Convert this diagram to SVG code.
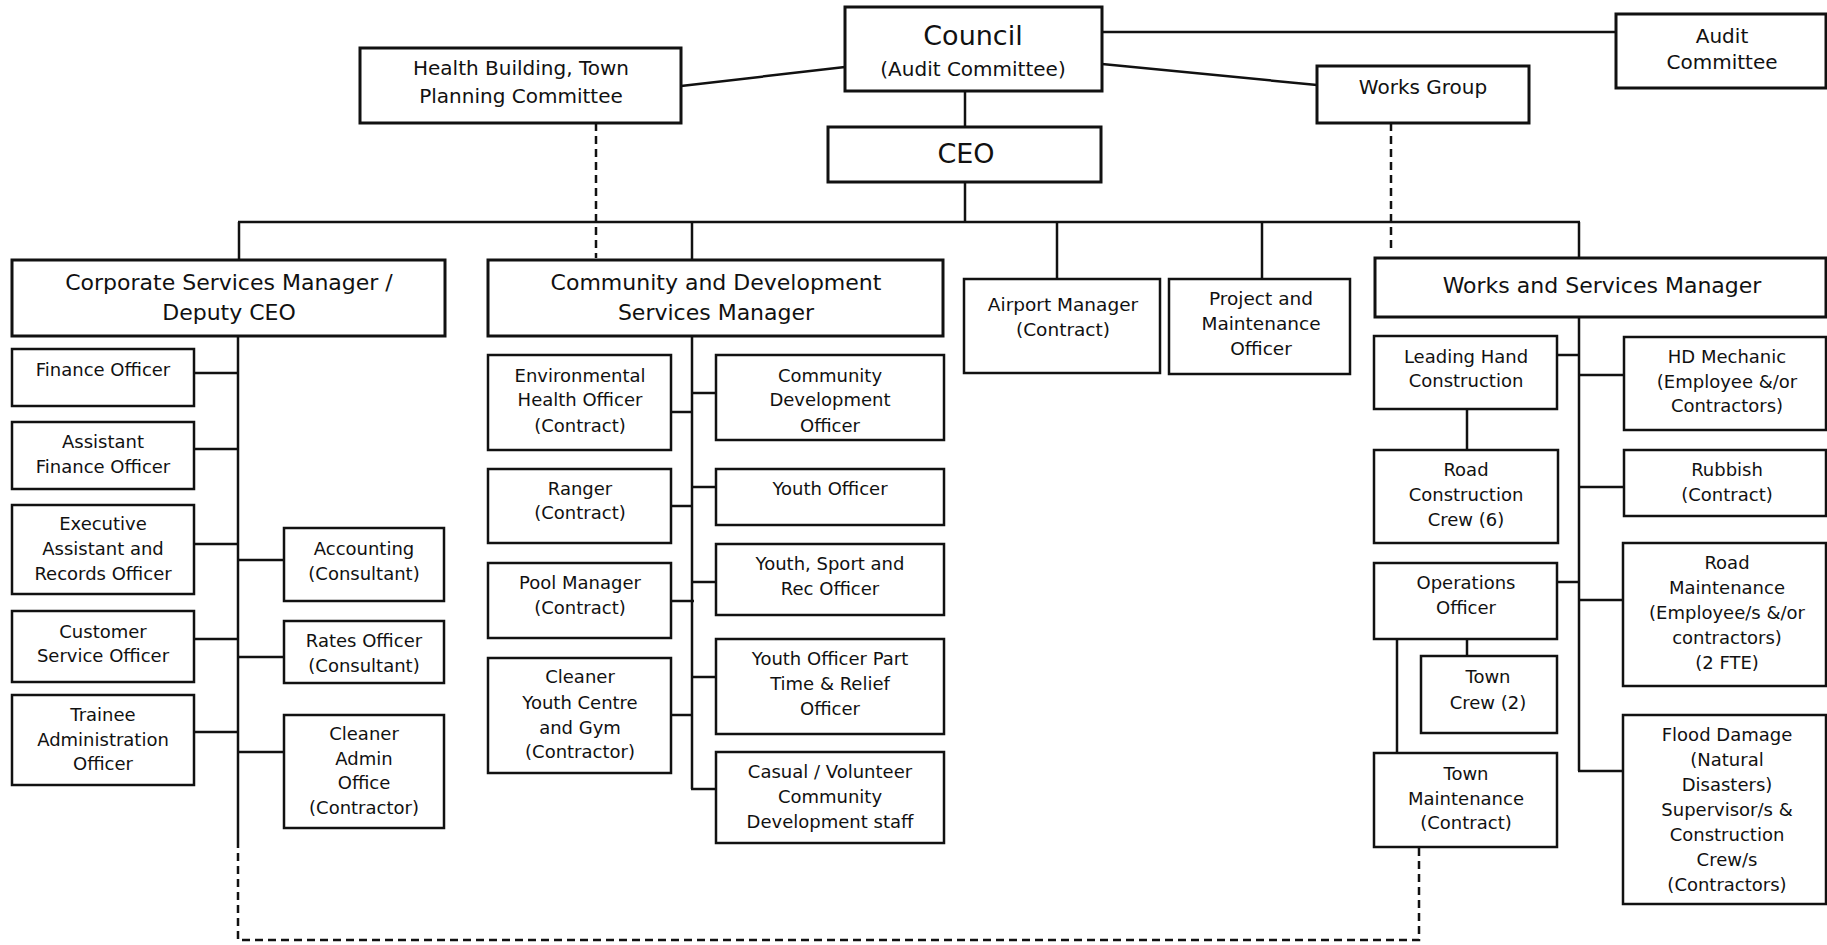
<svg xmlns="http://www.w3.org/2000/svg" width="1827" height="945" viewBox="0 0 1827 945">
<style>
  .bg { fill: #ffffff; }
  .box { fill: #ffffff; stroke: #111; stroke-width: 2.5; }
  .main { fill: #ffffff; stroke: #111; stroke-width: 3; }
  .ln { stroke: #111; stroke-width: 2.5; fill: none; }
  .dash { stroke: #111; stroke-width: 2.5; fill: none; stroke-dasharray: 8 5; }
  text { font-family: "DejaVu Sans", Verdana, sans-serif; fill: #111; text-anchor: middle; }
  .s { font-size: 18px; }
  .m { font-size: 18.5px; }
  .l { font-size: 20px; }
  .xl { font-size: 22px; }
  .xxl { font-size: 27px; }
</style>
<rect class="bg" x="0" y="0" width="1827" height="945"/>

<g id="connectors">
  <line class="ln" x1="1102" y1="32" x2="1616" y2="32"/>
  <line class="ln" x1="681" y1="86" x2="845" y2="67"/>
  <line class="ln" x1="1102" y1="64" x2="1317" y2="85"/>
  <line class="ln" x1="965" y1="91" x2="965" y2="127"/>
  <line class="ln" x1="965" y1="182" x2="965" y2="222"/>
  <line class="ln" x1="238" y1="222" x2="1580" y2="222"/>
  <line class="ln" x1="239" y1="222" x2="239" y2="260"/>
  <line class="ln" x1="692" y1="222" x2="692" y2="260"/>
  <line class="ln" x1="1057" y1="222" x2="1057" y2="279"/>
  <line class="ln" x1="1262" y1="222" x2="1262" y2="279"/>
  <line class="ln" x1="1579" y1="222" x2="1579" y2="258"/>
  <line class="dash" x1="596" y1="123" x2="596" y2="258"/>
  <line class="dash" x1="1391" y1="123" x2="1391" y2="252"/>

  <line class="ln" x1="238" y1="336" x2="238" y2="840"/>
  <polyline class="dash" points="238,840 238,940 1419,940 1419,847"/>
  <line class="ln" x1="194" y1="373" x2="238" y2="373"/>
  <line class="ln" x1="194" y1="449" x2="238" y2="449"/>
  <line class="ln" x1="194" y1="544" x2="238" y2="544"/>
  <line class="ln" x1="194" y1="639" x2="238" y2="639"/>
  <line class="ln" x1="194" y1="732" x2="238" y2="732"/>
  <line class="ln" x1="238" y1="560" x2="284" y2="560"/>
  <line class="ln" x1="238" y1="657" x2="284" y2="657"/>
  <line class="ln" x1="238" y1="752" x2="284" y2="752"/>

  <line class="ln" x1="692" y1="336" x2="692" y2="789"/>
  <line class="ln" x1="671" y1="412" x2="692" y2="412"/>
  <line class="ln" x1="671" y1="506" x2="692" y2="506"/>
  <line class="ln" x1="671" y1="601" x2="694" y2="601"/>
  <line class="ln" x1="671" y1="715" x2="692" y2="715"/>
  <line class="ln" x1="692" y1="393" x2="716" y2="393"/>
  <line class="ln" x1="692" y1="487" x2="716" y2="487"/>
  <line class="ln" x1="692" y1="582" x2="716" y2="582"/>
  <line class="ln" x1="692" y1="677" x2="716" y2="677"/>
  <line class="ln" x1="691" y1="789" x2="716" y2="789"/>

  <line class="ln" x1="1579" y1="317" x2="1579" y2="771"/>
  <line class="ln" x1="1557" y1="355" x2="1579" y2="355"/>
  <line class="ln" x1="1557" y1="582" x2="1579" y2="582"/>
  <line class="ln" x1="1579" y1="375" x2="1624" y2="375"/>
  <line class="ln" x1="1579" y1="487" x2="1624" y2="487"/>
  <line class="ln" x1="1579" y1="600" x2="1624" y2="600"/>
  <line class="ln" x1="1578" y1="771" x2="1624" y2="771"/>
  <line class="ln" x1="1467" y1="409" x2="1467" y2="450"/>
  <line class="ln" x1="1467" y1="639" x2="1467" y2="656"/>
  <line class="ln" x1="1397" y1="639" x2="1397" y2="753"/>
</g>

<g id="council">
  <rect class="main" x="845" y="7" width="257" height="84"/>
  <text class="xxl" x="973" y="45">Council</text>
  <text class="l" x="973" y="76">(Audit Committee)</text>
</g>
<g id="ceo">
  <rect class="main" x="828" y="127" width="273" height="55"/>
  <text class="xxl" x="966" y="163">CEO</text>
</g>
<g id="audit-committee">
  <rect class="main" x="1616" y="14" width="210" height="74"/>
  <text class="l" x="1722" y="43">Audit</text>
  <text class="l" x="1722" y="69">Committee</text>
</g>
<g id="health-building">
  <rect class="main" x="360" y="48" width="321" height="75"/>
  <text class="l" x="521" y="75">Health Building, Town</text>
  <text class="l" x="521" y="103">Planning Committee</text>
</g>
<g id="works-group">
  <rect class="main" x="1317" y="66" width="212" height="57"/>
  <text class="l" x="1423" y="94">Works Group</text>
</g>
<g id="corporate-services-manager">
  <rect class="main" x="12" y="260" width="433" height="76"/>
  <text class="xl" x="229" y="290">Corporate Services Manager /</text>
  <text class="xl" x="229" y="320">Deputy CEO</text>
</g>
<g id="community-development-manager">
  <rect class="main" x="488" y="260" width="455" height="76"/>
  <text class="xl" x="716" y="290">Community and Development</text>
  <text class="xl" x="716" y="320">Services Manager</text>
</g>
<g id="airport-manager">
  <rect class="box" x="964" y="279" width="196" height="94"/>
  <text class="m" x="1063" y="311">Airport Manager</text>
  <text class="m" x="1063" y="336">(Contract)</text>
</g>
<g id="project-maintenance-officer">
  <rect class="box" x="1169" y="279" width="181" height="95"/>
  <text class="m" x="1261" y="305">Project and</text>
  <text class="m" x="1261" y="330">Maintenance</text>
  <text class="m" x="1261" y="355">Officer</text>
</g>
<g id="works-services-manager">
  <rect class="main" x="1375" y="258" width="451" height="59"/>
  <text class="xl" x="1602" y="293">Works and Services Manager</text>
</g>

<g id="finance-officer">
  <rect class="box" x="12" y="349" width="182" height="57"/>
  <text class="s" x="103" y="376">Finance Officer</text>
</g>
<g id="assistant-finance-officer">
  <rect class="box" x="12" y="422" width="182" height="67"/>
  <text class="s" x="103" y="448">Assistant</text>
  <text class="s" x="103" y="473">Finance Officer</text>
</g>
<g id="executive-assistant">
  <rect class="box" x="12" y="505" width="182" height="89"/>
  <text class="s" x="103" y="530">Executive</text>
  <text class="s" x="103" y="555">Assistant and</text>
  <text class="s" x="103" y="580">Records Officer</text>
</g>
<g id="customer-service-officer">
  <rect class="box" x="12" y="611" width="182" height="71"/>
  <text class="s" x="103" y="638">Customer</text>
  <text class="s" x="103" y="662">Service Officer</text>
</g>
<g id="trainee-administration-officer">
  <rect class="box" x="12" y="695" width="182" height="90"/>
  <text class="s" x="103" y="721">Trainee</text>
  <text class="s" x="103" y="746">Administration</text>
  <text class="s" x="103" y="770">Officer</text>
</g>
<g id="accounting">
  <rect class="box" x="284" y="528" width="160" height="73"/>
  <text class="s" x="364" y="555">Accounting</text>
  <text class="s" x="364" y="580">(Consultant)</text>
</g>
<g id="rates-officer">
  <rect class="box" x="284" y="621" width="160" height="62"/>
  <text class="s" x="364" y="647">Rates Officer</text>
  <text class="s" x="364" y="672">(Consultant)</text>
</g>
<g id="cleaner-admin-office">
  <rect class="box" x="284" y="715" width="160" height="113"/>
  <text class="s" x="364" y="740">Cleaner</text>
  <text class="s" x="364" y="765">Admin</text>
  <text class="s" x="364" y="789">Office</text>
  <text class="s" x="364" y="814">(Contractor)</text>
</g>

<g id="environmental-health-officer">
  <rect class="box" x="488" y="355" width="183" height="95"/>
  <text class="s" x="580" y="382">Environmental</text>
  <text class="s" x="580" y="406">Health Officer</text>
  <text class="s" x="580" y="432">(Contract)</text>
</g>
<g id="ranger">
  <rect class="box" x="488" y="469" width="183" height="74"/>
  <text class="s" x="580" y="495">Ranger</text>
  <text class="s" x="580" y="519">(Contract)</text>
</g>
<g id="pool-manager">
  <rect class="box" x="488" y="563" width="183" height="75"/>
  <text class="s" x="580" y="589">Pool Manager</text>
  <text class="s" x="580" y="614">(Contract)</text>
</g>
<g id="cleaner-youth-centre">
  <rect class="box" x="488" y="658" width="183" height="115"/>
  <text class="s" x="580" y="683">Cleaner</text>
  <text class="s" x="580" y="709">Youth Centre</text>
  <text class="s" x="580" y="734">and Gym</text>
  <text class="s" x="580" y="758">(Contractor)</text>
</g>
<g id="community-development-officer">
  <rect class="box" x="716" y="355" width="228" height="85"/>
  <text class="s" x="830" y="382">Community</text>
  <text class="s" x="830" y="406">Development</text>
  <text class="s" x="830" y="432">Officer</text>
</g>
<g id="youth-officer">
  <rect class="box" x="716" y="469" width="228" height="56"/>
  <text class="s" x="830" y="495">Youth Officer</text>
</g>
<g id="youth-sport-rec-officer">
  <rect class="box" x="716" y="544" width="228" height="71"/>
  <text class="s" x="830" y="570">Youth, Sport and</text>
  <text class="s" x="830" y="595">Rec Officer</text>
</g>
<g id="youth-officer-part-time">
  <rect class="box" x="716" y="639" width="228" height="95"/>
  <text class="s" x="830" y="665">Youth Officer Part</text>
  <text class="s" x="830" y="690">Time &amp; Relief</text>
  <text class="s" x="830" y="715">Officer</text>
</g>
<g id="casual-volunteer">
  <rect class="box" x="716" y="752" width="228" height="91"/>
  <text class="s" x="830" y="778">Casual / Volunteer</text>
  <text class="s" x="830" y="803">Community</text>
  <text class="s" x="830" y="828">Development staff</text>
</g>

<g id="leading-hand-construction">
  <rect class="box" x="1374" y="336" width="183" height="73"/>
  <text class="s" x="1466" y="363">Leading Hand</text>
  <text class="s" x="1466" y="387">Construction</text>
</g>
<g id="road-construction-crew">
  <rect class="box" x="1374" y="450" width="184" height="93"/>
  <text class="s" x="1466" y="476">Road</text>
  <text class="s" x="1466" y="501">Construction</text>
  <text class="s" x="1466" y="526">Crew (6)</text>
</g>
<g id="operations-officer">
  <rect class="box" x="1374" y="563" width="183" height="76"/>
  <text class="s" x="1466" y="589">Operations</text>
  <text class="s" x="1466" y="614">Officer</text>
</g>
<g id="town-crew">
  <rect class="box" x="1421" y="656" width="136" height="77"/>
  <text class="s" x="1488" y="683">Town</text>
  <text class="s" x="1488" y="709">Crew (2)</text>
</g>
<g id="town-maintenance">
  <rect class="box" x="1374" y="753" width="183" height="94"/>
  <text class="s" x="1466" y="780">Town</text>
  <text class="s" x="1466" y="805">Maintenance</text>
  <text class="s" x="1466" y="829">(Contract)</text>
</g>
<g id="hd-mechanic">
  <rect class="box" x="1624" y="337" width="202" height="93"/>
  <text class="s" x="1727" y="363">HD Mechanic</text>
  <text class="s" x="1727" y="388">(Employee &amp;/or</text>
  <text class="s" x="1727" y="412">Contractors)</text>
</g>
<g id="rubbish">
  <rect class="box" x="1624" y="450" width="202" height="66"/>
  <text class="s" x="1727" y="476">Rubbish</text>
  <text class="s" x="1727" y="501">(Contract)</text>
</g>
<g id="road-maintenance">
  <rect class="box" x="1623" y="543" width="203" height="143"/>
  <text class="s" x="1727" y="569">Road</text>
  <text class="s" x="1727" y="594">Maintenance</text>
  <text class="s" x="1727" y="619">(Employee/s &amp;/or</text>
  <text class="s" x="1727" y="644">contractors)</text>
  <text class="s" x="1727" y="669">(2 FTE)</text>
</g>
<g id="flood-damage">
  <rect class="box" x="1623" y="715" width="203" height="189"/>
  <text class="s" x="1727" y="741">Flood Damage</text>
  <text class="s" x="1727" y="766">(Natural</text>
  <text class="s" x="1727" y="791">Disasters)</text>
  <text class="s" x="1727" y="816">Supervisor/s &amp;</text>
  <text class="s" x="1727" y="841">Construction</text>
  <text class="s" x="1727" y="866">Crew/s</text>
  <text class="s" x="1727" y="891">(Contractors)</text>
</g>
</svg>
